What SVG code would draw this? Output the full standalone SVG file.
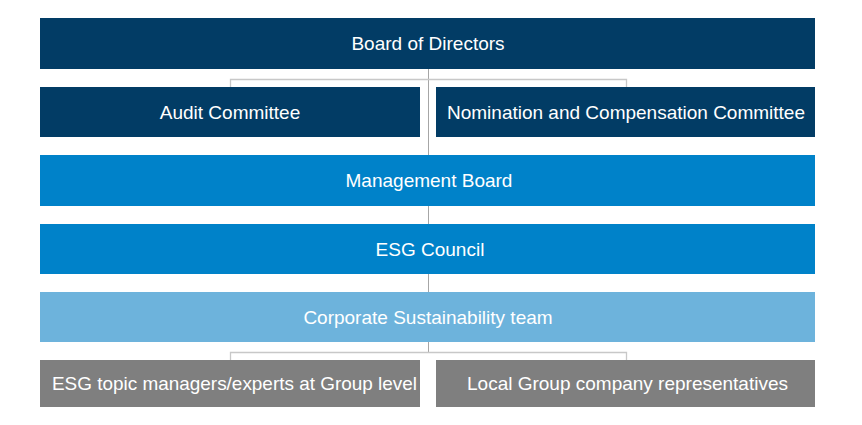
<svg xmlns="http://www.w3.org/2000/svg" width="862" height="425" viewBox="0 0 862 425">
<style>
.navy{fill:#023c65}
.blue{fill:#0082c9}
.light{fill:#6db3dc}
.grey{fill:#7f7f7f}
text{font-family:"Liberation Sans",Arial,sans-serif;font-size:19px;fill:#ffffff;text-anchor:middle}
.trunk{stroke:#a6a6a6;stroke-width:1;fill:none}
.branch{stroke:#c8c8c8;stroke-width:1.3;fill:none}
</style>
<rect width="862" height="425" fill="#ffffff"/>
<g id="connectors">
<path class="trunk" d="M428.5 69V155M428.5 206V224M428.5 274V292M428.5 342V352"/>
<path class="branch" d="M230.5 87V79.5H626.5V87"/>
<path class="branch" d="M230.5 360V352.5H626.5V360"/>
</g>
<g id="board"><rect class="navy" x="40" y="18" width="775" height="51"/><text x="428" y="50">Board of Directors</text></g>
<g id="audit"><rect class="navy" x="40" y="87" width="380" height="50"/><text x="230" y="118.5">Audit Committee</text></g>
<g id="nomination"><rect class="navy" x="436" y="87" width="379" height="50"/><text x="626" y="118.5">Nomination and Compensation Committee</text></g>
<g id="management"><rect class="blue" x="40" y="155" width="775" height="51"/><text x="429" y="187">Management Board</text></g>
<g id="esg"><rect class="blue" x="40" y="224" width="775" height="50"/><text x="430" y="255.5">ESG Council</text></g>
<g id="corporate"><rect class="light" x="40" y="292" width="775" height="50"/><text x="428" y="323.5">Corporate Sustainability team</text></g>
<g id="topic"><rect class="grey" x="40" y="360" width="380" height="47"/><text x="234.5" y="390" textLength="365" lengthAdjust="spacingAndGlyphs">ESG topic managers/experts at Group level</text></g>
<g id="local"><rect class="grey" x="436" y="360" width="379" height="47"/><text x="627.5" y="390" textLength="321" lengthAdjust="spacingAndGlyphs">Local Group company representatives</text></g>
</svg>
